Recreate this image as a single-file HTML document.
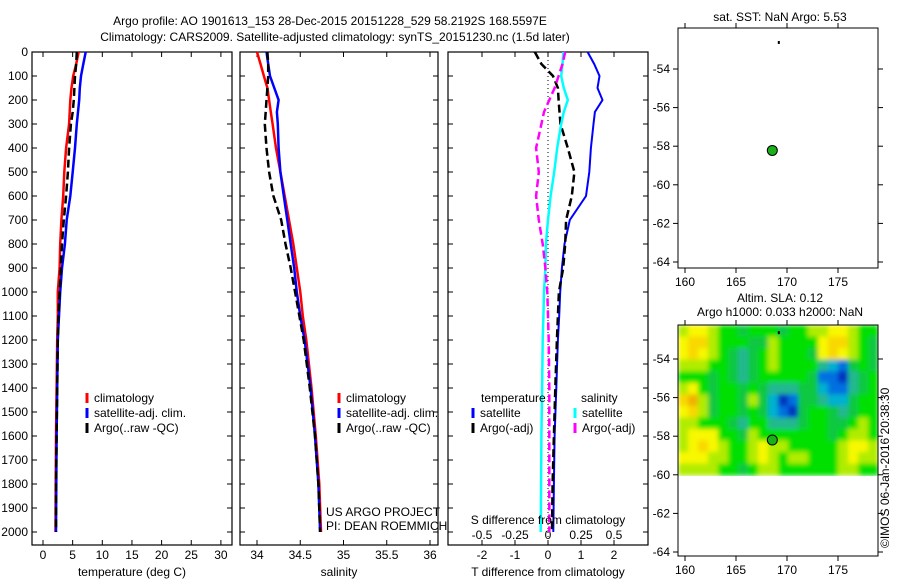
<!DOCTYPE html>
<html><head><meta charset="utf-8"><style>
body{margin:0;background:#fff;}
svg{display:block;font-family:"Liberation Sans",sans-serif;}
text{font-size:12px;fill:#000;}
</style></head><body>
<svg id="c" width="900" height="580" viewBox="0 0 900 580">
<text x="330" y="25" text-anchor="middle">Argo profile: AO 1901613_153 28-Dec-2015 20151228_529 58.2192S 168.5597E</text>
<text x="335" y="41" text-anchor="middle">Climatology: CARS2009. Satellite-adjusted climatology: synTS_20151230.nc (1.5d later)</text>
<text x="780" y="21" text-anchor="middle">sat. SST: NaN Argo: 5.53</text>
<text x="780" y="302" text-anchor="middle">Altim. SLA: 0.12</text>
<text x="780" y="316" text-anchor="middle">Argo h1000: 0.033 h2000: NaN</text>
<text transform="translate(889,548) rotate(-90)">©IMOS 06-Jan-2016 20:38:30</text>
<g id="g"></g>
</svg>
<script>
// ---- data ----
const depths = [0,50,100,150,200,250,300,400,500,600,700,800,900,1000,1100,1200,1400,1600,1800,2000];
const tempClim = [6.0,5.6,5.1,4.8,4.6,4.5,4.4,3.9,3.6,3.4,3.1,2.9,2.8,2.5,2.5,2.4,2.3,2.2,2.15,2.1];
const tempSat  = [7.2,6.8,6.4,6.2,6.1,5.9,5.7,5.4,5.0,4.6,4.0,3.7,3.2,2.9,2.7,2.5,2.4,2.3,2.25,2.2];
const tempArgo = [5.7,5.6,5.4,5.3,5.2,5.0,4.7,4.4,4.2,3.9,3.5,3.2,3.0,2.8,2.6,2.5,2.4,2.3,2.2,2.2];
const salClim = [34.0,34.04,34.08,34.12,34.14,34.16,34.18,34.22,34.27,34.32,34.37,34.42,34.46,34.5,34.53,34.57,34.63,34.68,34.72,34.74];
const salSat  = [34.11,34.13,34.15,34.2,34.25,34.23,34.24,34.25,34.27,34.31,34.35,34.39,34.43,34.46,34.5,34.55,34.62,34.67,34.71,34.73];
const salArgo = [34.12,34.13,34.13,34.12,34.11,34.1,34.09,34.11,34.14,34.19,34.28,34.33,34.39,34.44,34.49,34.54,34.61,34.67,34.71,34.73];
const dTSat  = [1.2,1.4,1.56,1.5,1.65,1.42,1.38,1.3,1.25,1.15,0.66,0.5,0.42,0.37,0.34,0.3,0.25,0.2,0.18,0.16];
const dTArgo = [-0.4,-0.2,0.15,0.3,0.32,0.35,0.38,0.6,0.8,0.72,0.55,0.52,0.46,0.33,0.3,0.27,0.22,0.18,0.14,0.12];
const dSSat  = [0.117,0.11,0.1,0.12,0.15,0.12,0.1,0.07,0.047,0.02,0,-0.016,-0.02,-0.03,-0.035,-0.04,-0.045,-0.05,-0.052,-0.055];
const dSArgo = [0.13,0.11,0.08,0.05,0.01,-0.03,-0.05,-0.09,-0.07,-0.09,-0.07,-0.04,-0.02,-0.005,0,0.005,0.01,0.01,0.01,0.01];
const depthTicks = [0,100,200,300,400,500,600,700,800,900,1000,1100,1200,1300,1400,1500,1600,1700,1800,1900,2000];
const tempTicks = [0,5,10,15,20,25,30];
const salTicks = [34,34.5,35,35.5,36];
const salTickLabels = ["34","34.5","35","35.5","36"];
const dTTicks = [-2,-1,0,1,2];
const dSTicks = [-0.5,-0.25,0,0.25,0.5];
const dSTickLabels = ["-0.5","-0.25","0","0.25","0.5"];
const lonTicks = [160,165,170,175];
const latTicks = [-54,-56,-58,-60,-62,-64];
const argoLon = 168.56, argoLat = -58.22;
// SLA field rows (north->south), 0 = deep blue ... 9 = orange
const slaRows = [
 "67765545554556677655",
 "78865554465555788654",
 "78765434565554787654",
 "66655434565555321454",
 "55545434555554110345",
 "67545545433344211345",
 "89645546420144322455",
 "78645545421045543455",
 "66555435533345544565",
 "67775546555555545665",
 "67876556766555556776",
 "77766556765665556766",
 "66665545665555556655"
];

const NS='http://www.w3.org/2000/svg';
const G=document.getElementById('g');
function mk(tag,attrs,parent){const e=document.createElementNS(NS,tag);for(const k in attrs)e.setAttribute(k,attrs[k]);(parent||G).appendChild(e);return e;}
function txt(x,y,s,anchor,parent){const e=mk('text',{x:x,y:y,'text-anchor':anchor||'start'},parent);e.textContent=s;return e;}

const Y0=52, YPX=0.24, BOT=545;
const yD=d=>Y0+d*YPX;

function panel(x0,x1,name){
  const r=mk('rect',{x:x0,y:Y0,width:x1-x0,height:BOT-Y0,fill:'none',stroke:'#000','stroke-width':1.2});
  
  
  depthTicks.forEach(d=>{
    mk('line',{x1:x0,x2:x0+5,y1:yD(d),y2:yD(d),stroke:'#000'});
    mk('line',{x1:x1,x2:x1-5,y1:yD(d),y2:yD(d),stroke:'#000'});
  });
}
function series(vals,xf,color,w,dash,name){
  let p='';vals.forEach((v,i)=>{p+=(i?'L':'M')+xf(v).toFixed(1)+' '+yD(depths[i]).toFixed(1);});
  const e=mk('path',{d:p,fill:'none',stroke:color,'stroke-width':w});
  if(dash)e.setAttribute('stroke-dasharray',dash);
  
  
}
function xticks(ticks,labels,xf,ty){
  ticks.forEach((t,i)=>{
    mk('line',{x1:xf(t),x2:xf(t),y1:BOT,y2:BOT-5,stroke:'#000'});
    mk('line',{x1:xf(t),x2:xf(t),y1:Y0,y2:Y0+5,stroke:'#000'});
    if(labels){const e=txt(xf(t),ty,labels[i],'middle');
      
      }
  });
}
function legend(x,y,items){
  items.forEach((it,i)=>{
    mk('line',{x1:x,x2:x,y1:y+i*15-9,y2:y+i*15+1,stroke:it[1],'stroke-width':3});
    const e=txt(x+7,y+i*15,it[0]);
    
    
  });
}

// Panel 1: temperature
const xT=v=>43+v*5.93;
panel(32,232,'temperature-panel');
depthTicks.forEach(d=>{const e=txt(28,yD(d)+4,String(d),'end');
  
  });
xticks(tempTicks,tempTicks.map(String),xT,559);
series(tempClim,xT,'#f00',2.5,null,'temp-climatology-line');
series(tempSat,xT,'#00f',2.5,null,'temp-satellite-line');
series(tempArgo,xT,'#000',2.5,'8 4','temp-argo-line');
txt(132,576,'temperature (deg C)','middle');
legend(87,402,[['climatology','#f00'],['satellite-adj. clim.','#00f'],['Argo(..raw -QC)','#000']]);

// Panel 2: salinity
const xS=v=>257+(v-34)*86.5;
panel(240,438,'salinity-panel');
xticks(salTicks,salTickLabels,xS,559);
series(salClim,xS,'#f00',2.5,null,'sal-climatology-line');
series(salSat,xS,'#00f',2.5,null,'sal-satellite-line');
series(salArgo,xS,'#000',2.5,'8 4','sal-argo-line');
txt(339,576,'salinity','middle');
legend(339,402,[['climatology','#f00'],['satellite-adj. clim.','#00f'],['Argo(..raw -QC)','#000']]);
txt(326,516,'US ARGO PROJECT');
txt(326,530,'PI: DEAN ROEMMICH');

// Panel 3: differences
const xDT=v=>548+v*33;
const xDS=v=>548+v*132;
panel(448,648,'difference-panel');
mk('line',{x1:548,x2:548,y1:Y0,y2:BOT,stroke:'#000','stroke-dasharray':'1 3'});
xticks(dTTicks,dTTicks.map(String),xDT,559);
dSTickLabels.forEach((l,i)=>{txt(xDS(dSTicks[i]),539,l,'middle');});
series(dTSat,xDT,'#00f',2,null,'temp-diff-satellite-line');
series(dTArgo,xDT,'#000',2.5,'8 4','temp-diff-argo-line');
series(dSSat,xDS,'#0ff',2.5,null,'sal-diff-satellite-line');
series(dSArgo,xDS,'#f0f',2.5,'8 4','sal-diff-argo-line');
txt(548,524,'S difference from climatology','middle');
txt(548,576,'T difference from climatology','middle');
txt(481,402,'temperature');txt(581,402,'salinity');
legend(473,417,[['satellite','#00f'],['Argo(-adj)','#000']]);
legend(575,417,[['satellite','#0ff'],['Argo(-adj)','#f0f']]);

// Maps
const MX0=678,MX1=878;
const xLon=l=>685+(l-160)*10.2;
function map(top,latRef,yRef,name,bottom){
  const yLat=l=>yRef+(latRef-l)*19.3;
  const r=mk('rect',{x:MX0,y:top,width:MX1-MX0,height:bottom-top,fill:'none',stroke:'#000'});
  
  
  lonTicks.forEach(l=>{
    mk('line',{x1:xLon(l),x2:xLon(l),y1:bottom,y2:bottom+5,stroke:'#000'});
    mk('line',{x1:xLon(l),x2:xLon(l),y1:top,y2:top-5,stroke:'#000'});
    txt(xLon(l),bottom+18,String(l),'middle');
  });
  latTicks.forEach(l=>{
    mk('line',{x1:MX0,x2:MX0-5,y1:yLat(l),y2:yLat(l),stroke:'#000'});
    mk('line',{x1:MX1,x2:MX1+5,y1:yLat(l),y2:yLat(l),stroke:'#000'});
    txt(MX0-8,yLat(l)+4,String(l),'end');
  });
  return yLat;
}
const palette=['#0030c0','#0070e0','#00b0d0','#20b890','#10c840','#00e000','#b0ec00','#f8f800','#f8d800','#f0b000'];
const yLat2=lat=>359+(-54-lat)*19.2;
const hTop=325,hBot=yLat2(-60.05);
const rows=slaRows.length,cols=slaRows[0].length;
const cw=(MX1-MX0)/cols,ch=(hBot-hTop)/rows;
const defs=mk('defs',{},document.getElementById('c'));
const f=mk('filter',{id:'bl',x:'0',y:'0',width:'1',height:'1'},defs);
mk('feGaussianBlur',{stdDeviation:'2.5',edgeMode:'duplicate'},f);
const hg=mk('g',{filter:'url(#bl)'});


slaRows.forEach((row,ri)=>{for(let ci=0;ci<cols;ci++){
  const c=mk('rect',{x:MX0+ci*cw,y:hTop+ri*ch,width:cw+0.5,height:ch+0.5,fill:palette[+row[ci]]},hg);
  
  
}});
const yLat1=map(28,-54,69,'sst-map',268);
map(325,-54,359,'sla-map',556);
[[yLat1,'sst'],[yLat2,'sla']].forEach(([yl,n])=>{
  const c=mk('circle',{cx:xLon(argoLon),cy:yl(argoLat),r:5,fill:'#1ab01a',stroke:'#000','stroke-width':1});
  
  
  mk('rect',{x:xLon(169.1),y:yl(-52.6)-1,width:2,height:3,fill:'#000'});
});
</script>
</body></html>
